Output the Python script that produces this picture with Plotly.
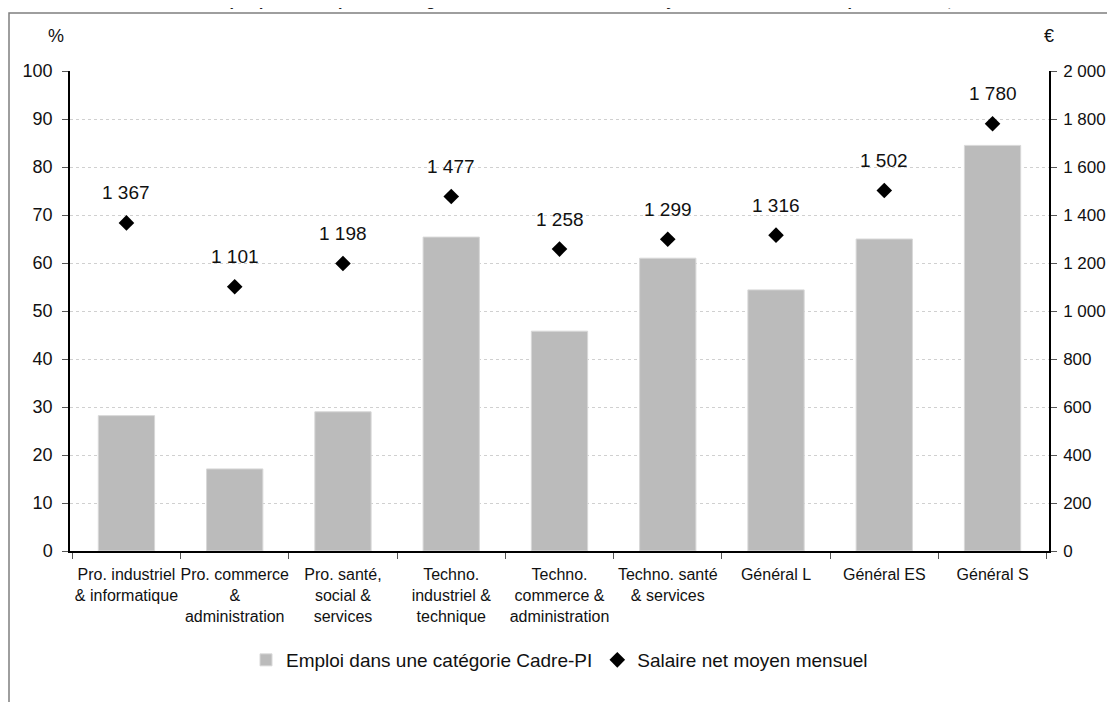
import plotly.graph_objects as go

categories = [
    "Pro. industriel<br>& informatique",
    "Pro. commerce<br>&<br>administration",
    "Pro. santé,<br>social &<br>services",
    "Techno.<br>industriel &<br>technique",
    "Techno.<br>commerce &<br>administration",
    "Techno. santé<br>& services",
    "Général L",
    "Général ES",
    "Général S",
]
emploi_cadre_pi = [28.2, 17.1, 29.0, 65.4, 45.8, 61.0, 54.4, 65.0, 84.5]
salaire_net = [1367, 1101, 1198, 1477, 1258, 1299, 1316, 1502, 1780]

title_text = ("Graphique 4 – Emploi en catégorie Cadre-PI et salaire net moyen mensuel "
              "trois ans après la sortie, selon la filière du bac")

FONT = "Liberation Sans, Arial"

# page offset (body margin) of 8px; plot area in page pixels: x 70..1049, y 71..551
def px(xp):
    return (xp - 70) / 979

def py(yp):
    return (551 - yp) / 480

fig = go.Figure()
fig.add_trace(go.Bar(
    x=categories, y=emploi_cadre_pi, name="Emploi dans une catégorie Cadre-PI",
    marker=dict(color="#BBBBBB", line=dict(color="#D8D8D8", width=1)),
    width=0.52, yaxis="y",
))
fig.add_trace(go.Scatter(
    x=categories, y=salaire_net, name="Salaire net moyen mensuel",
    mode="markers", yaxis="y2",
    marker=dict(symbol="diamond", color="black", size=12),
))

for c, v in zip(categories, salaire_net):
    fig.add_annotation(x=c, y=v, xref="x", yref="y2", text=f"{v:,d}".replace(",", " "),
                       showarrow=False, yshift=30, yanchor="middle",
                       font=dict(size=19, color="#111111", family=FONT))

fig.add_shape(type="rect", xref="paper", yref="paper",
              x0=px(9), x1=1.2, y0=-0.5, y1=py(13),
              line=dict(color="#7F7F7F", width=1.5), layer="below")

fig.add_annotation(text="<b>" + title_text + "</b>", xref="paper", yref="paper",
                   x=px(660), y=py(11), xanchor="center", yanchor="bottom",
                   showarrow=False, font=dict(size=16, color="#222222", family=FONT))
fig.add_annotation(text="%", xref="paper", yref="paper", x=px(56), y=py(36),
                   xanchor="center", yanchor="middle", showarrow=False,
                   font=dict(size=18, color="#111111", family=FONT))
fig.add_annotation(text="€", xref="paper", yref="paper", x=px(1049), y=py(36),
                   xanchor="center", yanchor="middle", showarrow=False,
                   font=dict(size=18, color="#111111", family=FONT))

fig.update_layout(
    width=1107, height=694,
    margin=dict(l=62, r=66, t=63, b=151, autoexpand=False),
    paper_bgcolor="white", plot_bgcolor="white",
    separators=", ",
    font=dict(family=FONT, size=18, color="#111111"),
    showlegend=True,
    legend=dict(orientation="h", x=0.5, xanchor="center", y=py(660), yanchor="middle",
                font=dict(size=19, family=FONT), traceorder="normal"),
    xaxis=dict(type="category", tickson="boundaries", ticks="outside", ticklen=6,
               tickcolor="#555555", showline=True, linecolor="black", linewidth=1.5,
               tickangle=0, automargin=False, ticklabelstandoff=8,
               tickfont=dict(size=16, family=FONT), showgrid=False),
    yaxis=dict(range=[0, 100], dtick=10, ticks="outside", ticklen=6, tickcolor="#555555",
               showline=True, linecolor="black", linewidth=1.5, automargin=False,
               ticklabelstandoff=6,
               showgrid=True, gridcolor="#D0D0D0", griddash="dot", gridwidth=1,
               zeroline=False, tickfont=dict(size=18)),
    yaxis2=dict(range=[0, 2000], dtick=200, overlaying="y", side="right",
                ticks="outside", ticklen=6, tickcolor="#555555", automargin=False,
                ticklabelstandoff=3,
                showline=True, linecolor="black", linewidth=1.5,
                showgrid=False, zeroline=False, tickformat=",d", tickfont=dict(size=17)),
)

fig.write_html("out.html")
